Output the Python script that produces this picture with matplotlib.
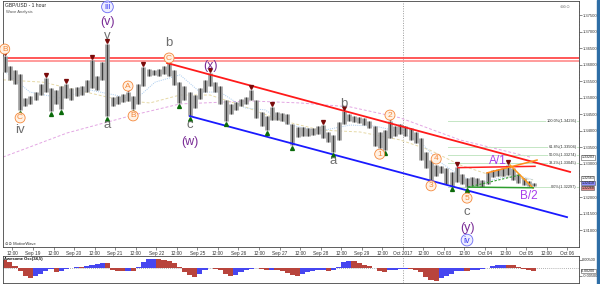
import matplotlib
matplotlib.use("Agg")
import matplotlib.pyplot as plt
import matplotlib.transforms as mtransforms
from matplotlib.patches import Rectangle
import numpy as np

plt.rcParams['font.family'] = ['Liberation Sans', 'DejaVu Sans']

# ---------------- data ----------------
# 3-hour bars, time axis in trading hours from Sep 18 00:00 (weekends removed)
bar_start_hour = 7.5
bar_step_hours = 3
bar_high = [1.3627, 1.3597, 1.3585, 1.3573, 1.3500, 1.3506, 1.3518, 1.3542, 1.3561, 1.3530,
            1.3524, 1.3536, 1.3542, 1.3530, 1.3533, 1.3536, 1.3555, 1.3615, 1.3567, 1.3609,
            1.3664, 1.3503, 1.3506, 1.3512, 1.3518, 1.3506, 1.3542, 1.3594, 1.3588, 1.3585,
            1.3588, 1.3597, 1.3606, 1.3585, 1.3548, 1.3536, 1.3518, 1.3509, 1.3530, 1.3555,
            1.3576, 1.3548, 1.3536, 1.3494, 1.3482, 1.3488, 1.3497, 1.3503, 1.3524, 1.3494,
            1.3458, 1.3445, 1.3473, 1.3458, 1.3455, 1.3451, 1.3421, 1.3412, 1.3412, 1.3409,
            1.3409, 1.3415, 1.3418, 1.3397, 1.3388, 1.3427, 1.3461, 1.3451, 1.3445, 1.3442,
            1.3439, 1.3430, 1.3415, 1.3397, 1.3403, 1.3430, 1.3415, 1.3421, 1.3415, 1.3409,
            1.3397, 1.3379, 1.3336, 1.3312, 1.3297, 1.3294, 1.3288, 1.3276, 1.3291, 1.3270,
            1.3258, 1.3261, 1.3258, 1.3252, 1.3276, 1.3282, 1.3285, 1.3288, 1.3297, 1.3288,
            1.3270, 1.3258, 1.3248, 1.3242]
bar_low = [1.3579, 1.3555, 1.3542, 1.3464, 1.3476, 1.3482, 1.3494, 1.3509, 1.3518, 1.3461,
           1.3482, 1.3467, 1.3500, 1.3494, 1.3506, 1.3509, 1.3518, 1.3530, 1.3524, 1.3555,
           1.3445, 1.3476, 1.3482, 1.3488, 1.3491, 1.3467, 1.3482, 1.3536, 1.3567, 1.3570,
           1.3567, 1.3573, 1.3567, 1.3539, 1.3485, 1.3494, 1.3445, 1.3470, 1.3497, 1.3518,
           1.3536, 1.3518, 1.3482, 1.3430, 1.3451, 1.3464, 1.3476, 1.3482, 1.3494, 1.3439,
           1.3415, 1.3403, 1.3433, 1.3433, 1.3430, 1.3421, 1.3358, 1.3382, 1.3385, 1.3385,
           1.3388, 1.3391, 1.3379, 1.3367, 1.3336, 1.3373, 1.3421, 1.3430, 1.3427, 1.3424,
           1.3418, 1.3409, 1.3355, 1.3348, 1.3342, 1.3379, 1.3385, 1.3391, 1.3385, 1.3373,
           1.3364, 1.3312, 1.3288, 1.3252, 1.3264, 1.3273, 1.3239, 1.3233, 1.3245, 1.3239,
           1.3230, 1.3233, 1.3233, 1.3231, 1.3239, 1.3261, 1.3264, 1.3264, 1.3267, 1.3252,
           1.3242, 1.3236, 1.3232, 1.3234]
ao_values = [0.0050, 0.0038, 0.0012, -0.0020, -0.0048, -0.0060, -0.0052, -0.0038, -0.0018, -0.0005,
             -0.0025, -0.0018, -0.0008, 0.0000, 0.0006, 0.0004, 0.0010, 0.0016, 0.0022, 0.0032,
             0.0030, -0.0012, -0.0020, -0.0020, -0.0018, -0.0020, 0.0005, 0.0040, 0.0055, 0.0056,
             0.0054, 0.0050, 0.0045, 0.0030, 0.0005, -0.0025, -0.0045, -0.0055, -0.0040, -0.0015,
             -0.0003, -0.0008, -0.0012, -0.0035, -0.0050, -0.0042, -0.0028, -0.0015, -0.0005, 0.0000,
             -0.0008, -0.0015, -0.0010, -0.0012, -0.0020, -0.0032, -0.0045, -0.0050, -0.0040, -0.0028,
             -0.0018, -0.0015, -0.0012, -0.0016, -0.0015, 0.0008, 0.0035, 0.0045, 0.0042, 0.0032,
             0.0020, 0.0010, -0.0003, -0.0022, -0.0026, -0.0015, -0.0010, -0.0006, -0.0004, -0.0008,
             -0.0012, -0.0025, -0.0055, -0.0078, -0.0080, -0.0065, -0.0048, -0.0035, -0.0022, -0.0018,
             -0.0020, -0.0014, -0.0010, -0.0008, 0.0002, 0.0010, 0.0016, 0.0020, 0.0020, 0.0016,
             0.0008, -0.0004, -0.0014, -0.0020]

swing_high_bars = [0, 8, 12, 17, 20, 24, 27, 32, 40, 48, 52, 62, 66, 75, 88, 98]
swing_low_bars = [3, 9, 11, 20, 25, 34, 36, 43, 51, 56, 64, 74, 83, 87, 90]

ma_slow_t = [6.5, 43.9, 82.4, 109.9, 150.8, 180.0, 209.2, 238.4, 273.4, 314.3]
ma_slow = [1.3321, 1.3394, 1.3448, 1.3482, 1.3491, 1.3485, 1.3473, 1.3440, 1.3373, 1.3321]
ma_mid_t = [6.5, 29.8, 57.3, 74.8, 92.3, 109.9, 127.4, 144.9, 168.3, 191.6, 215.0, 238.4,
            255.9, 273.4, 290.9, 316.1]
ma_mid = [1.3555, 1.3548, 1.3515, 1.3494, 1.3485, 1.3509, 1.3509, 1.3479, 1.3433, 1.3403,
          1.3397, 1.3373, 1.3342, 1.3297, 1.3267, 1.3252]
ma_fast_t = [6.5, 22.2, 39.8, 57.3, 71.9, 83.6, 95.3, 109.9, 121.5, 133.2, 147.8, 159.5,
             174.1, 191.6, 209.2, 223.8, 238.4, 250.1, 261.7, 273.4, 285.1, 296.8, 308.5, 316.1]
ma_fast = [1.3585, 1.3518, 1.3500, 1.3524, 1.3509, 1.3494, 1.3548, 1.3570, 1.3518, 1.3518,
           1.3470, 1.3464, 1.3418, 1.3400, 1.3418, 1.3415, 1.3397, 1.3367, 1.3306, 1.3264,
           1.3242, 1.3258, 1.3264, 1.3252]

resistance_levels = [1.3622, 1.3611]
channel_upper_t = [102.3, 337.7]
channel_upper = [1.3606, 1.3276]
channel_lower_t = [115.7, 335.9]
channel_lower = [1.3445, 1.3139]
a1_line_t = [272.2, 317.2]
a1_line = [1.3289, 1.3293]
orange_up_t = [289.2, 318.4]
orange_up = [1.3273, 1.3312]
orange_down_t = [302.6, 316.1]
orange_down = [1.3297, 1.3227]
green_base_t = [278.1, 316.1]
green_base = [1.3230, 1.3228]
green_dash_t = [278.1, 308.5]
green_dash = [1.3230, 1.3267]

fib_start_t = 266.4
fib_names = ["100.0%", "61.8%", "50.0%", "38.2%", "0.0%"]
fib_levels = [1.34295, 1.33504, 1.33274, 1.33045, 1.32297]

marker_prices = [1.33203, 1.32563, 1.32418, 1.32268]
marker_faces = ['white', 'white', '#8C8CFF', '#E89090']

month_line_t = 240
tick_hours = list(range(12, 337, 12))
tick_labels = ["12:00", "Sep 19", "12:00", "Sep 20", "12:00", "Sep 21", "12:00", "Sep 22",
               "12:00", "Sep 25", "12:00", "Sep 26", "12:00", "Sep 27", "12:00", "Sep 28",
               "12:00", "Sep 29", "12:00", "Oct 2017", "12:00", "Oct 03", "12:00", "Oct 04",
               "12:00", "Oct 05", "12:00", "Oct 06"]
price_ticks = [1.310, 1.315, 1.320, 1.325, 1.330, 1.335, 1.340, 1.345, 1.350, 1.355,
               1.360, 1.365, 1.370, 1.375]
# the 1.32500 label is hidden behind the price boxes in the reference
price_tick_labels = ["1.31000", "1.31500", "1.32000", "", "1.33000", "1.33500", "1.34000",
                     "1.34500", "1.35000", "1.35500", "1.36000", "1.36500", "1.37000", "1.37500"]

# wave labels: text, bar, side, offset(px), style
wave_labels = [
    ("B", 0, "high", 7, "orange"), ("C", 3, "low", 8, "orange"), ("iv", 3, "low", 20, "gray"),
    ("v", 20, "high", 8, "gray"), ("(v)", 20, "high", 22, "purple"), ("iii", 20, "high", 37, "bluec"),
    ("a", 20, "low", 9, "gray"), ("A", 24, "high", 6, "orange"), ("B", 25, "low", 7, "orange"),
    ("C", 32, "high", 5, "orange"), ("b", 32, "high", 20, "gray"), ("c", 36, "low", 9, "gray"),
    ("(w)", 36, "low", 26, "purple"), ("(x)", 40, "high", 7, "purple"), ("b", 66, "high", 7, "gray"),
    ("a", 64, "low", 9, "gray"), ("2", 75, "high", 6, "orange"), ("1", 73, "low", 6, "orange"),
    ("3", 83, "low", 6, "orange"), ("4", 84, "high", 6, "orange"), ("5", 90, "low", 11, "orange"),
    ("c", 90, "low", 25, "gray"), ("(y)", 90, "low", 41, "purple"), ("iv", 90, "low", 53, "bluec"),
    ("A/1", 96, "high", 8, "violet"), ("B/2", 102, "low", 10, "violet"),
]

# ---------------- figure ----------------
W, H = 600, 284
fig = plt.figure(figsize=(W / 100, H / 100), dpi=100)
fig.patch.set_facecolor('white')

ax = fig.add_axes([3 / W, 1 - 247 / H, 576 / W, 246 / H])
ax2 = fig.add_axes([3 / W, 1 - 283 / H, 576 / W, 27 / H], sharex=ax)

n = len(bar_high)
bar_t = np.array([bar_start_hour + bar_step_hours * i for i in range(n)])
hi = np.array(bar_high)
lo = np.array(bar_low)

ax.set_xlim(6.5, 342.9)
ax.set_ylim(1.30485, 1.37939)

# horizontal resistance lines
ax.axhline(resistance_levels[0], color='#FF3B3B', lw=1.2, zorder=2)
ax.axhline(resistance_levels[1], color='#FF8A8A', lw=1.2, zorder=2)

# moving averages
ax.plot(ma_slow_t, ma_slow, color='#E3A6E3', lw=0.7, ls=(0, (3, 2)), zorder=1)
ax.plot(ma_mid_t, ma_mid, color='#E6D9A6', lw=0.7, ls=(0, (3, 2)), zorder=1)
ax.plot(ma_fast_t, ma_fast, color='#A8CBEF', lw=0.7, ls=(0, (1, 1.2)), zorder=1)

# fib lines
for name, lvl in zip(fib_names, fib_levels):
    ax.plot([fib_start_t, 342.9], [lvl, lvl], color='#C4E6C4', lw=0.7, zorder=1)
    ax.text(341.5, lvl, f"{name}({lvl:.5f})", fontsize=2.8, color='#333333',
            ha='right', va='center', zorder=3,
            bbox=dict(boxstyle='square,pad=0.1', fc='white', ec='none', alpha=0.8))

# price bars
ax.vlines(bar_t, lo, hi, color='#9c9c9c', lw=3.3, zorder=3)
ax.vlines(bar_t, lo, hi, color='#2a2a2a', lw=0.6, zorder=4)

# channel & pattern lines
ax.plot(channel_upper_t, channel_upper, color='#FF1A1A', lw=1.3, zorder=5)
ax.plot(channel_lower_t, channel_lower, color='#1A1AFF', lw=1.3, zorder=5)
ax.plot(a1_line_t, a1_line, color='#FF2020', lw=1.1, zorder=5)
ax.plot(orange_up_t, orange_up, color='#FF8C1A', lw=1.1, zorder=5)
ax.plot(orange_down_t, orange_down, color='#FF9A1A', lw=1.1, zorder=5)
ax.plot(green_base_t, green_base, color='#2E9E2E', lw=1.1, zorder=5)
ax.plot(green_dash_t, green_dash, color='#2E9E2E', lw=0.8, ls=(0, (2, 1.5)), zorder=5)

# swing markers
up_tr = mtransforms.offset_copy(ax.transData, fig=fig, x=0, y=2.0, units='points')
dn_tr = mtransforms.offset_copy(ax.transData, fig=fig, x=0, y=-2.0, units='points')
ax.plot(bar_t[swing_high_bars], hi[swing_high_bars], 'v', ms=2.8, color='#7A0A0A',
        transform=up_tr, zorder=6, lw=0)
ax.plot(bar_t[swing_low_bars], lo[swing_low_bars], '^', ms=2.8, color='#0A6A0A',
        transform=dn_tr, zorder=6, lw=0)

# month separator
ax.axvline(month_line_t, color='#9a9a9a', ls=(0, (1, 1.5)), lw=0.7, zorder=0)
ax2.axvline(month_line_t, color='#9a9a9a', ls=(0, (1, 1.5)), lw=0.7, zorder=0)

# wave labels
styles = {
    "orange": dict(color='#F5883A', fontsize=6,
                   bbox=dict(boxstyle='circle,pad=0.18', fc='#FFF1E4', ec='#F5883A', lw=0.6)),
    "gray": dict(color='#6E6E6E', fontsize=9.5),
    "purple": dict(color='#7A2C96', fontsize=9),
    "bluec": dict(color='#3A3AF5', fontsize=6.5,
                  bbox=dict(boxstyle='circle,pad=0.15', fc='#EEEEFF', ec='#6A6AF5', lw=0.6)),
    "violet": dict(color='#A83CEB', fontsize=8.5),
}
for text, b, side, off, st in wave_labels:
    y = hi[b] if side == "high" else lo[b]
    dy = off * 0.72 if side == "high" else -off * 0.72
    ax.annotate(text, xy=(bar_t[b], y), xytext=(0, dy), textcoords='offset points',
                ha='center', va='center', zorder=8, annotation_clip=False, **styles[st])

# titles
ax.text(0.003, 0.993, "GBP/USD - 1 hour", transform=ax.transAxes, fontsize=3.6,
        color='#222222', va='top', ha='left')
ax.text(0.006, 0.962, "Wave Analysis", transform=ax.transAxes, fontsize=3.0,
        color='#555555', va='top', ha='left')
ax.text(0.003, 0.006, "\u2299\u2299 MotiveWave", transform=ax.transAxes, fontsize=3.0,
        color='#333333', va='bottom', ha='left')
ax.text(0.985, 0.985, "\u2295\u2296\u2299", transform=ax.transAxes, fontsize=3.2,
        color='#999999', va='top', ha='right')

# axes styling (main)
for s in ax.spines.values():
    s.set_color('#444444')
    s.set_linewidth(0.6)
ax.yaxis.tick_right()
ax.set_yticks(price_ticks)
ax.set_yticklabels(price_tick_labels)
ax.yaxis.set_minor_locator(matplotlib.ticker.MultipleLocator(0.001))
ax.tick_params(axis='y', which='major', labelsize=3.0, length=1.8, width=0.4, pad=0.6,
               colors='#333333')
ax.tick_params(axis='y', which='minor', length=1.0, width=0.3, colors='#555555')
ax.set_xticks(tick_hours)
ax.set_xticklabels(tick_labels)
ax.tick_params(axis='x', labelsize=3.4, length=2, width=0.4, pad=1.2, colors='#333333',
               direction='out')

bt = mtransforms.blended_transform_factory(ax.transAxes, ax.transData)
for p, fc in zip(marker_prices, marker_faces):
    ax.text(1.004, p, f"{p:.5f}", transform=bt, fontsize=2.5, color='#111111',
            ha='left', va='center', zorder=9, clip_on=False,
            bbox=dict(boxstyle='square,pad=0.06', fc=fc, ec='#555555', lw=0.4))

# oscillator
ao = np.array(ao_values)
ao_colors = ['#B8443C'] + ['#4646F0' if ao[i] > ao[i - 1] else '#B8443C' for i in range(1, n)]
ax2.bar(bar_t, ao, width=bar_step_hours, color=ao_colors, linewidth=0, zorder=2)
ax2.axhline(0, color='#999999', ls=(0, (1, 1.5)), lw=0.6, zorder=1)
ax2.set_ylim(-0.0094, 0.0075)
for s in ax2.spines.values():
    s.set_color('#444444')
    s.set_linewidth(0.6)
ax2.yaxis.tick_right()
ax2.set_yticks([0.005, -0.005])
ax2.set_yticklabels(["0.00500", "-0.00500"])
ax2.tick_params(axis='y', labelsize=2.9, length=1.8, width=0.4, pad=0.6, colors='#333333')
ax2.tick_params(axis='x', labelbottom=False, length=0)
ax2.text(0.002, 0.95, "Awesome Osc(34,5)", transform=ax2.transAxes, fontsize=3.0,
         fontweight='bold', color='#111111', va='top', ha='left')
bt2 = mtransforms.blended_transform_factory(ax2.transAxes, ax2.transData)
ax2.text(1.004, ao[-1], f"{ao[-1]:.5f}", transform=bt2, fontsize=2.5, color='#111111',
         ha='left', va='center', clip_on=False,
         bbox=dict(boxstyle='square,pad=0.06', fc='white', ec='#555555', lw=0.4))

# right blue border strip
fig.patches.append(Rectangle((597 / W, 0), 3 / W, 1, transform=fig.transFigure,
                             color='#2E6EA6', zorder=-1))

fig.savefig('out.png', dpi=100)
